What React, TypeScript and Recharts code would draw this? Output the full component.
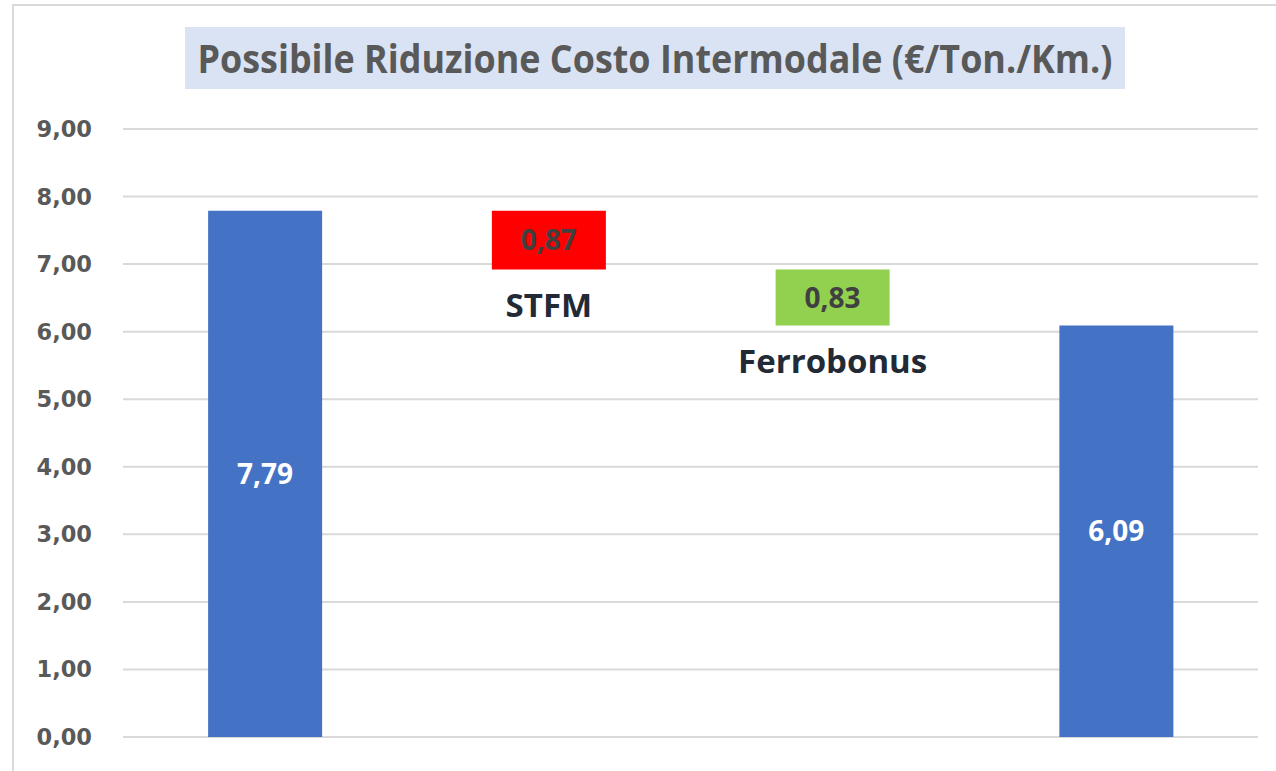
import { BarChart, Bar, Cell, XAxis, YAxis, CartesianGrid, LabelList } from 'recharts'

const categories = ['Costo attuale', 'STFM', 'Ferrobonus', 'Costo ridotto']
const kinds = ['total', 'step', 'step', 'total']
const values = [7.79, 0.87, 0.83, 6.09]
const colors = ['#4472c4', '#ff0000', '#92d050', '#4472c4']
const yTicks = [0, 1, 2, 3, 4, 5, 6, 7, 8, 9]

const title = 'Possibile Riduzione Costo Intermodale (€/Ton./Km.)'

// waterfall: each step hangs from the running total
const buildData = () => {
    let running = 0
    return categories.map((name, i) => {
        let base = 0
        if (kinds[i] === 'total') {
            running = values[i]
        } else {
            running = running - values[i]
            base = running
        }
        return { name, base, value: values[i], kind: kinds[i] }
    })
}

const data = buildData()

const fmt = (v: number) => v.toFixed(2).replace('.', ',')

const YTick = (props: any) => {
    const { y, payload } = props
    return (
        <text
            x={92}
            y={y}
            dy={8}
            textAnchor='end'
            fill='#595959'
            fontFamily='DejaVu Sans'
            fontWeight={700}
            fontSize={22.5}
        >
            {fmt(payload.value)}
        </text>
    )
}

const ValueLabel = (props: any) => {
    const { x, y, width, height, value, index } = props
    const isStep = data[index].kind === 'step'
    return (
        <text
            x={x + width / 2}
            y={y + height / 2}
            dy={10}
            textAnchor='middle'
            fill={isStep ? '#404040' : '#ffffff'}
            fontFamily='Open Sans'
            fontWeight={700}
            fontSize={28}
        >
            {fmt(value)}
        </text>
    )
}

const NameLabel = (props: any) => {
    const { x, y, width, height, index } = props
    if (data[index].kind !== 'step') return null
    return (
        <text
            x={x + width / 2}
            y={y + height + 47}
            textAnchor='middle'
            fill='#222a35'
            fontFamily='Open Sans'
            fontWeight={700}
            fontSize={33}
        >
            {data[index].name}
        </text>
    )
}

export default function App() {
    return (
        <div style={{ position: 'absolute', left: 0, top: 0, width: 1276, height: 771, background: '#fff', overflow: 'hidden' }}>
            <div
                style={{
                    position: 'absolute',
                    left: 12,
                    top: 4,
                    width: 1264,
                    height: 767,
                    borderLeft: '2px solid #d9d9d9',
                    borderTop: '2px solid #d9d9d9',
                    boxSizing: 'border-box',
                }}
            />
            <svg width={1276} height={100} style={{ position: 'absolute', left: 0, top: 0 }}>
                <rect x={185} y={27} width={940} height={62} fill='#dae3f3' />
                <text
                    x={655}
                    y={73}
                    textAnchor='middle'
                    textLength={915}
                    lengthAdjust='spacingAndGlyphs'
                    fill='#595959'
                    fontFamily='Open Sans'
                    fontWeight={700}
                    fontSize={39}
                >
                    {title}
                </text>
            </svg>
            <div style={{ position: 'absolute', left: 0, top: 0 }}>
                <BarChart
                    width={1276}
                    height={771}
                    data={data}
                    barCategoryGap='30%'
                    margin={{ top: 129, right: 18, left: 0, bottom: 34 }}
                >
                    <CartesianGrid vertical={false} stroke='#d9d9d9' strokeWidth={2} />
                    <XAxis dataKey='name' hide />
                    <YAxis
                        width={123}
                        domain={[0, 9]}
                        ticks={yTicks}
                        axisLine={false}
                        tickLine={false}
                        tick={<YTick />}
                        interval={0}
                    />
                    <Bar dataKey='base' stackId='a' fill='transparent' isAnimationActive={false} />
                    <Bar dataKey='value' stackId='a' isAnimationActive={false}>
                        {data.map((d, i) => (
                            <Cell key={d.name} fill={colors[i]} />
                        ))}
                        <LabelList dataKey='value' content={<ValueLabel />} />
                        <LabelList dataKey='name' content={<NameLabel />} />
                    </Bar>
                </BarChart>
            </div>
        </div>
    )
}
